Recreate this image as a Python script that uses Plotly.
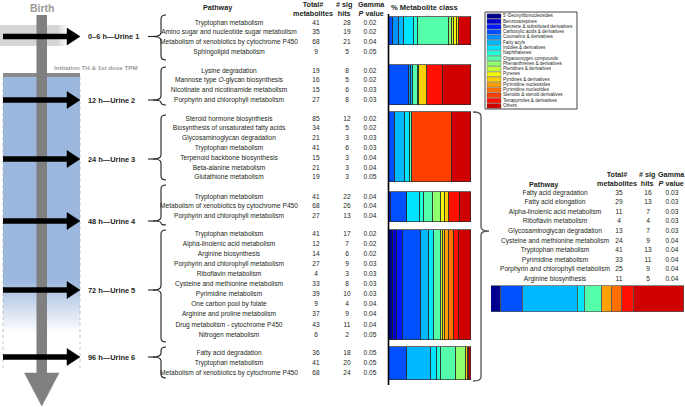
import plotly.graph_objects as go

W, H = 685, 407
FONT = "Liberation Sans, Arial, Helvetica, sans-serif"
INK = "#231f20"

# ── Data ───────────────────────────────────────────────────────────
classes = [
    "5'-Deoxyribonucleosides", "Benzoxazepines", "Benzene & substituted derivatives",
    "Carboxylic acids & derivatives", "Coumarins & derivatives", "Fatty acyls",
    "Indoles & derivatives", "Naphthalenes", "Organooxygen compounds",
    "Phenanthrenes & derivatives", "Pteridines & derivatives", "Pyrenes",
    "Pyridines & derivatives", "Pyrimidine nucleosides", "Pyrimidine nucleotides",
    "Steroids & steroid derivatives", "Tetrapyrroles & derivatives", "Others",
]
class_colors = [
    "#00008f", "#0000cf", "#0018ff", "#0050ff", "#0090ff", "#00b8ff",
    "#00e4ff", "#25ffd9", "#55ffaa", "#90ff70", "#c4ff3a", "#f2f70c",
    "#ffd000", "#ffa000", "#ff7000", "#ff4000", "#ff1000", "#d00000",
]

time_labels = ["0–6 h—Urine 1", "12 h—Urine 2", "24 h—Urine 3",
               "48 h—Urine 4", "72 h—Urine 5", "96 h—Urine 6"]

u1_pathway = ["Tryptophan metabolism", "Amino sugar and nucleotide sugar metabolism",
              "Metabolism of xenobiotics by cytochrome P450", "Sphingolipid metabolism"]
u1_total = [41, 35, 68, 9]
u1_hits = [28, 19, 21, 5]
u1_p = [0.02, 0.02, 0.04, 0.05]

u2_pathway = ["Lysine degradation", "Mannose type <i>O</i>-glycan biosynthesis",
              "Nicotinate and nicotinamide metabolism", "Porphyrin and chlorophyll metabolism"]
u2_total = [19, 16, 15, 27]
u2_hits = [8, 5, 6, 8]
u2_p = [0.02, 0.02, 0.03, 0.03]

u3_pathway = ["Steroid hormone biosynthesis", "Biosynthesis of unsaturated fatty acids",
              "Glycosaminoglycan degradation", "Tryptophan metabolism",
              "Terpenoid backbone biosynthesis", "Beta-alanine metabolism",
              "Glutathione metabolism"]
u3_total = [85, 34, 21, 41, 15, 21, 19]
u3_hits = [12, 5, 3, 6, 3, 3, 3]
u3_p = [0.02, 0.02, 0.03, 0.03, 0.04, 0.04, 0.05]

u4_pathway = ["Tryptophan metabolism", "Metabolism of xenobiotics by cytochrome P450",
              "Porphyrin and chlorophyll metabolism"]
u4_total = [41, 68, 27]
u4_hits = [22, 26, 13]
u4_p = [0.04, 0.04, 0.04]

u5_pathway = ["Tryptophan metabolism", "Alpha-linolenic acid metabolism",
              "Arginine biosynthesis", "Porphyrin and chlorophyll metabolism",
              "Riboflavin metabolism", "Cysteine and methionine metabolism",
              "Pyrimidine metabolism", "One carbon pool by folate",
              "Arginine and proline metabolism", "Drug metabolism - cytochrome P450",
              "Nitrogen metabolism"]
u5_total = [41, 12, 14, 27, 4, 33, 39, 9, 37, 43, 6]
u5_hits = [17, 7, 6, 9, 3, 8, 10, 4, 9, 11, 2]
u5_p = [0.02, 0.02, 0.02, 0.03, 0.03, 0.03, 0.03, 0.04, 0.04, 0.04, 0.05]

u6_pathway = ["Fatty acid degradation", "Tryptophan metabolism",
              "Metabolism of xenobiotics by cytochrome P450"]
u6_total = [36, 41, 68]
u6_hits = [18, 20, 24]
u6_p = [0.05, 0.05, 0.05]

all_pathway = ["Fatty acid degradation", "Fatty acid elongation",
               "Alpha-linolenic acid metabolism", "Riboflavin metabolism",
               "Glycosaminoglycan degradation", "Cysteine and methionine metabolism",
               "Tryptophan metabolism", "Pyrimidine metabolism",
               "Porphyrin and chlorophyll metabolism", "Arginine biosynthesis"]
all_total = [35, 29, 11, 4, 13, 24, 41, 33, 25, 11]
all_hits = [16, 13, 7, 4, 7, 9, 13, 11, 9, 5]
all_p = [0.03, 0.03, 0.03, 0.03, 0.03, 0.04, 0.04, 0.04, 0.04, 0.04]

# % metabolite class per urine sample (order as in `classes`)
u1_pct = [0, 0, 0, 5.3, 7.0, 6.2, 11.5, 4.9, 38.3, 4.1, 2.1, 3.3, 2.9, 0, 0, 0, 0, 14.4]
u2_pct = [0, 0, 0, 24.7, 2.1, 2.1, 0, 0, 6.2, 1.2, 0, 0, 10.3, 0, 0, 0, 19.3, 34.1]
u3_pct = [0, 0, 0, 6.8, 0, 12.4, 6.0, 0, 3.2, 0, 0, 0, 0, 0, 0, 48.4, 0, 23.2]
u4_pct = [0, 0, 2.8, 18.6, 0, 0, 16.2, 4.9, 11.3, 10.1, 0, 4.9, 4.0, 0, 0, 0, 13.4, 13.8]
u5_pct = [5.2, 4.8, 7.2, 21.6, 0, 10.0, 6.4, 0, 8.8, 0, 2.4, 0, 2.4, 4.0, 6.0, 0, 6.0, 15.2]
u6_pct = [0, 0, 0, 22.0, 0, 28.8, 7.2, 5.2, 18.8, 12.0, 0, 0, 2.0, 0, 0, 0, 1.5, 2.5]
all_pct = [5.3, 0, 0, 11.2, 0, 28.4, 3.8, 0, 9.0, 0, 0, 0, 0, 5.2, 4.8, 0, 6.6, 25.7]

# ── Layout geometry (pixels) ───────────────────────────────────────
arrow_y = [36.5, 100, 159, 221, 290, 357]
row_start = [23, 71, 119, 197, 234, 353]
row_step = [9.7, 9.7, 9.8, 9.6, 10.1, 10.0]
brace_span = [(15, 60), (67, 105), (115, 180), (185, 225), (230, 342), (347, 378)]
bar_span = [(17, 45), (65, 105), (112, 182), (192, 222), (230, 340), (347, 380)]

groups = [
    (u1_pathway, u1_total, u1_hits, u1_p, u1_pct),
    (u2_pathway, u2_total, u2_hits, u2_p, u2_pct),
    (u3_pathway, u3_total, u3_hits, u3_p, u3_pct),
    (u4_pathway, u4_total, u4_hits, u4_p, u4_pct),
    (u5_pathway, u5_total, u5_hits, u5_p, u5_pct),
    (u6_pathway, u6_total, u6_hits, u6_p, u6_pct),
]

fig = go.Figure()
shapes = []
annotations = []


def rect(x0, y0, x1, y1, fill, layer="below", line_color=None, line_width=0, dash=None):
    shapes.append(dict(type="rect", xref="x", yref="y", x0=x0, y0=y0, x1=x1, y1=y1,
                       fillcolor=fill, layer=layer,
                       line=dict(color=line_color or fill, width=line_width, dash=dash)))


def line(x0, y0, x1, y1, color, width, dash=None, layer="above"):
    shapes.append(dict(type="line", xref="x", yref="y", x0=x0, y0=y0, x1=x1, y1=y1,
                       layer=layer, line=dict(color=color, width=width, dash=dash)))


def path(d, fill=None, color=INK, width=1, layer="above"):
    shapes.append(dict(type="path", xref="x", yref="y", path=d, layer=layer,
                       fillcolor=fill or "rgba(0,0,0,0)", line=dict(color=color, width=width)))


def text(x, y, s, size=7, color=INK, anchor="center", bold=False):
    annotations.append(dict(xref="x", yref="y", x=x, y=y, text=f"<b>{s}</b>" if bold else s,
                            showarrow=False, xanchor=anchor, yanchor="middle",
                            font=dict(family=FONT, size=size, color=color)))


def text_col(x, ys, labels, size=6.6, pos="middle center"):
    fig.add_trace(go.Scatter(x=[x] * len(ys), y=ys, text=labels, mode="text",
                             textposition=pos, hoverinfo="skip", showlegend=False,
                             textfont=dict(family=FONT, size=size, color=INK),
                             xaxis="x", yaxis="y"))


# ── Timeline on the left ───────────────────────────────────────────
# soft gray band around the first collection
rect(0, 25, 58, 46, "#d6d6d6")
for k in range(10):
    rect(58 + k, 25, 59 + k, 46, f"rgba(214,214,214,{1 - (k + 1) / 11:.2f})")
# blue treatment period, fading out
blue = (155, 183, 221)
rect(3, 76, 80, 280, "rgb(%d,%d,%d)" % blue)
for k in range(26):
    a = 1 - (k + 1) / 27
    rect(3, 280 + 2 * k, 80, 282 + 2 * k, f"rgba({blue[0]},{blue[1]},{blue[2]},{a:.2f})")
rect(3, 73, 80, 77, "#8a8a8a")
line(3, 77, 3, 368, "#b5b5b5", 0.8, dash="dot", layer="below")
line(80, 77, 80, 368, "#b5b5b5", 0.8, dash="dot", layer="below")
# gray time axis with arrow head
rect(36.5, 15, 47, 374, "#808080")
path("M 24.5,373 L 59,373 L 41.75,406 Z", fill="#808080", color="#808080", width=0.5)
text(42, 8, "Birth", size=10.5, color="#9a9a9a", bold=True)
text(96, 67, "Initiation TH &amp; 1st dose TPM", size=6.2, color="#9a9a9a", bold=True)

for y, lab in zip(arrow_y, time_labels):
    line(3, y, 70, y, "black", 5.5)
    path(f"M 67,{y - 8.5} L 80,{y} L 67,{y + 8.5} Z", fill="black", color="black", width=0.5)
    text(86, y, lab, size=7.4, anchor="left", bold=True)

# ── Pathway tables ─────────────────────────────────────────────────
text(217, 7, "Pathway", size=7.2, bold=True)
text(313, 9, "Total#<br>metabolites", size=7.2, bold=True)
text(344, 9, "# sig<br>hits", size=7.2, bold=True)
text(371, 9, "Gamma<br><i>P</i> value", size=7.2, bold=True)
text(424, 7, "% Metabolite class", size=7.5, bold=True)

for g, (names, totals, hits, pvals, _) in enumerate(groups):
    ys = [row_start[g] + i * row_step[g] for i in range(len(names))]
    text_col(229, ys, names)
    text_col(316, ys, [str(v) for v in totals])
    text_col(347, ys, [str(v) for v in hits])
    text_col(370, ys, [f"{v:.2f}" for v in pvals])
    top, bot = brace_span[g]
    tip = arrow_y[g]
    x = 161
    r1 = min(4, (tip - top) / 2)
    r2 = min(4, (bot - tip) / 2)
    path(f"M {x + 5},{top} Q {x},{top} {x},{top + r1} L {x},{tip - r1} "
         f"Q {x},{tip} {x - 8},{tip} Q {x},{tip} {x},{tip + r2} L {x},{bot - r2} "
         f"Q {x},{bot} {x + 5},{bot}", width=1.1)
    line(148, tip, 155, tip, INK, 1.1)

# axis of the stacked bars
line(388.5, 14, 388.5, 385, "black", 1.6)

# right-hand bracket and summary table
xb = 481
path(f"M 473,112 Q {xb},112 {xb},116 L {xb},227 Q {xb},231 489,231 "
     f"Q {xb},231 {xb},235 L {xb},377 Q {xb},381 473,381", color="#555", width=1.3)

text(543, 184, "Pathway", size=7.2, bold=True)
text(617, 179, "Total#<br>metabolites", size=7.2, bold=True)
text(647, 179, "# sig<br>hits", size=7.2, bold=True)
text(671, 179, "Gamma<br><i>P</i> value", size=7.2, bold=True)
ys = [193 + i * 9.6 for i in range(len(all_pathway))]
text_col(555, ys, all_pathway)
text_col(619, ys, [str(v) for v in all_total])
text_col(648, ys, [str(v) for v in all_hits])
text_col(672, ys, [f"{v:.2f}" for v in all_p])

# ── Class legend ───────────────────────────────────────────────────
lx0, ly0, lx1, ly1 = 485, 12, 577, 109
rect(lx0, ly0, lx1, ly1, "white", line_color="#444", line_width=1)
step = (ly1 - ly0 - 2) / len(classes)
leg_y = []
for i, c in enumerate(class_colors):
    y0 = ly0 + 1.5 + i * step
    rect(lx0 + 2, y0 + 0.3, lx0 + 16, y0 + step - 0.3, c, layer="above",
         line_color="#555", line_width=0.4)
    leg_y.append(y0 + step / 2)
text_col(lx0 + 18, leg_y, classes, size=4.6, pos="middle right")

# ── Stacked % bars ─────────────────────────────────────────────────
centers = [(a + b) / 2 for a, b in bar_span]
heights = [b - a for a, b in bar_span]
for i, (cls, col) in enumerate(zip(classes, class_colors)):
    xs, yc, hw = [], [], []
    for g, grp in enumerate(groups):
        v = grp[4][i]
        if v > 0:
            xs.append(v)
            yc.append(centers[g])
            hw.append(heights[g])
    if xs:
        fig.add_trace(go.Bar(x=xs, y=yc, width=hw, orientation="h", name=cls,
                             marker=dict(color=col, line=dict(color="#2a2a2a", width=0.7)),
                             xaxis="x2", yaxis="y2", showlegend=False, hoverinfo="skip"))
    if all_pct[i] > 0:
        fig.add_trace(go.Bar(x=[all_pct[i]], y=[299], width=[26], orientation="h", name=cls,
                             marker=dict(color=col, line=dict(color="#555", width=0.7)),
                             xaxis="x3", yaxis="y2", showlegend=False, hoverinfo="skip"))

hidden = dict(visible=False, showgrid=False, zeroline=False, fixedrange=True)
fig.update_layout(
    width=W, height=H,
    margin=dict(l=0, r=0, t=0, b=0),
    paper_bgcolor="white", plot_bgcolor="rgba(0,0,0,0)",
    barmode="stack", bargap=0,
    xaxis=dict(domain=[0, 1], range=[0, W], anchor="y", **hidden),
    yaxis=dict(domain=[0, 1], range=[H, 0], anchor="x", **hidden),
    xaxis2=dict(domain=[389 / W, 471 / W], range=[0, 100], anchor="y2", **hidden),
    yaxis2=dict(domain=[0, 1], range=[H, 0], anchor="x2", **hidden),
    xaxis3=dict(domain=[491 / W, 684 / W], range=[0, 100], anchor="y2", **hidden),
    shapes=shapes,
    annotations=annotations,
    showlegend=False,
)

# the page body has a default 8px margin; drop it so the figure sits at 0,0
fig.write_html("out.html", config={"displayModeBar": False},
               post_script="document.body.style.margin='0px';")
